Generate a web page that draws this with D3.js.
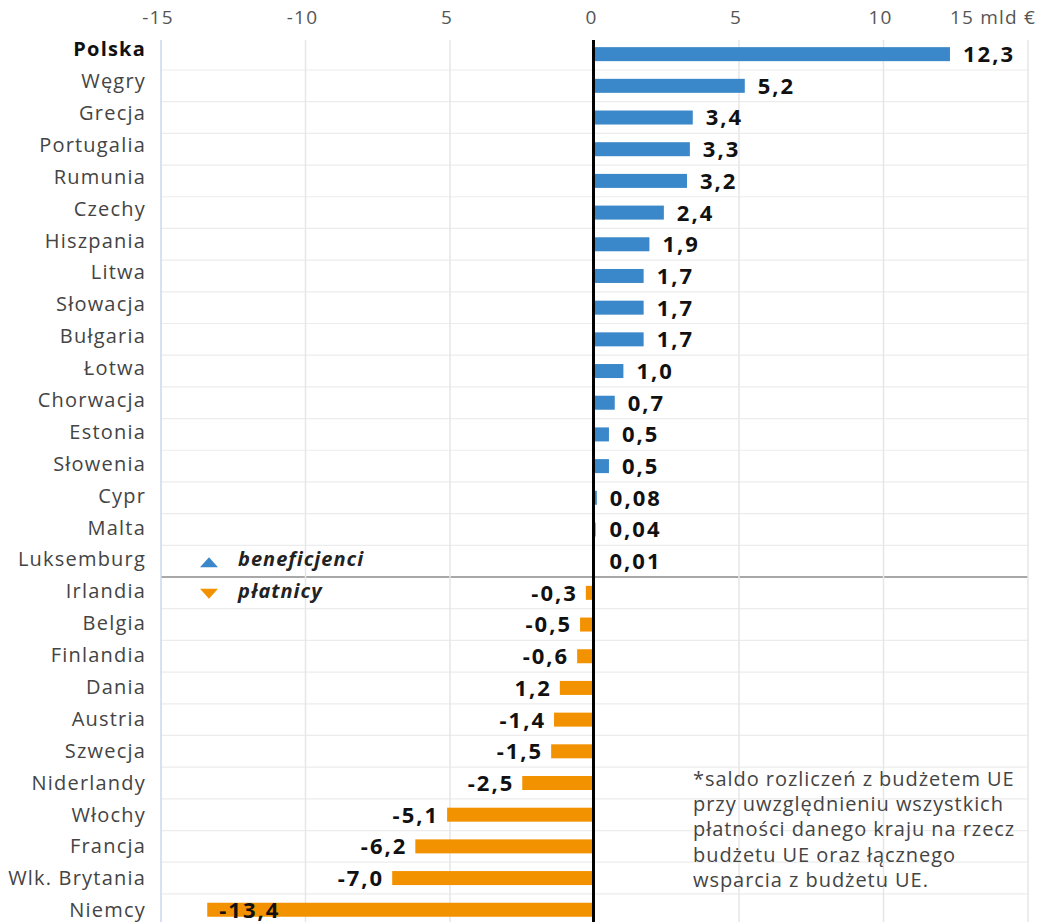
<!DOCTYPE html>
<html lang="pl">
<head>
<meta charset="UTF-8">
<title>Saldo rozliczeń z budżetem UE</title>
<script src="https://d3js.org/d3.v7.min.js"></script>
<style>
  body { margin: 0; background: #fff; }
  svg { display: block; font-family: "Open Sans", "Noto Sans", sans-serif; }
</style>
</head>
<body>
<div id="chart"></div>
<script>
// dane
const categories = ["Polska", "Węgry", "Grecja", "Portugalia", "Rumunia", "Czechy", "Hiszpania", "Litwa",
  "Słowacja", "Bułgaria", "Łotwa", "Chorwacja", "Estonia", "Słowenia", "Cypr", "Malta", "Luksemburg",
  "Irlandia", "Belgia", "Finlandia", "Dania", "Austria", "Szwecja", "Niderlandy", "Włochy", "Francja",
  "Wlk. Brytania", "Niemcy"];
const values = [12.3, 5.2, 3.4, 3.3, 3.2, 2.4, 1.9, 1.7, 1.7, 1.7, 1.0, 0.7, 0.5, 0.5, 0.08, 0.04, 0.01,
  -0.3, -0.5, -0.6, -1.2, -1.4, -1.5, -2.5, -5.1, -6.2, -7.0, -13.4];
const valueLabels = ["12,3", "5,2", "3,4", "3,3", "3,2", "2,4", "1,9", "1,7", "1,7", "1,7", "1,0", "0,7",
  "0,5", "0,5", "0,08", "0,04", "0,01", "-0,3", "-0,5", "-0,6", "1,2", "-1,4", "-1,5", "-2,5", "-5,1",
  "-6,2", "-7,0", "-13,4"];
const tickValues = [-15, -10, -5, 0, 5, 10, 15];
const tickLabels = ["-15", "-10", "5", "0", "5", "10", "15 mld €"];
const legendLabels = ["beneficjenci", "płatnicy"];
const noteLines = [
  "*saldo rozliczeń z budżetem UE",
  "przy uwzględnieniu wszystkich",
  "płatności danego kraju na rzecz",
  "budżetu UE oraz łącznego",
  "wsparcia z budżetu UE."
];

const width = 1040, height = 922;
const blue = "#3a88c9", orange = "#f39200";

const svg = d3.select("#chart").append("svg")
  .attr("width", width).attr("height", height);

const x = d3.scaleLinear().domain([-15, 15]).range([161, 1028]);
const y = d3.scaleBand().domain(categories).range([38.3, 925.6]);
const yLabel = d3.scaleBand().domain(categories).range([33, 926]);
const barH = 14;
const plotTop = 40;

// poziome linie siatki
svg.append("g").selectAll("line")
  .data(categories.slice(1))
  .join("line")
  .attr("x1", x(-15)).attr("x2", x(15))
  .attr("y1", d => y(d)).attr("y2", d => y(d))
  .attr("stroke", d => d === "Irlandia" ? "#a8a8a8" : "#ececec")
  .attr("stroke-width", d => d === "Irlandia" ? 2 : 1.2);

// pionowe linie siatki
svg.append("g").selectAll("line")
  .data(tickValues.filter(d => d !== 0))
  .join("line")
  .attr("x1", d => x(d)).attr("x2", d => x(d))
  .attr("y1", plotTop).attr("y2", height)
  .attr("stroke", d => d === -15 ? "#cbd7ec" : "#e6e6e6")
  .attr("stroke-width", 1.5);

// etykiety osi X
svg.append("g").selectAll("text")
  .data(tickValues)
  .join("text")
  .attr("x", (d, i) => i === tickValues.length - 1 ? 1036 : x(d) - 3)
  .attr("y", 24)
  .attr("text-anchor", (d, i) => i === tickValues.length - 1 ? "end" : "middle")
  .attr("font-size", 19)
  .attr("letter-spacing", 1.2)
  .attr("fill", "#555")
  .text((d, i) => tickLabels[i]);

// słupki
svg.append("g").selectAll("rect")
  .data(values)
  .join("rect")
  .attr("x", d => x(Math.min(0, d)))
  .attr("width", d => Math.abs(x(d) - x(0)))
  .attr("y", (d, i) => y(categories[i]) + (y.bandwidth() - barH) / 2)
  .attr("height", barH)
  .attr("fill", d => d >= 0 ? blue : orange);

// linia zera
svg.append("line")
  .attr("x1", x(0) - 1).attr("x2", x(0) - 1)
  .attr("y1", plotTop).attr("y2", height)
  .attr("stroke", "#000").attr("stroke-width", 3);

// etykiety kategorii
svg.append("g").selectAll("text")
  .data(categories)
  .join("text")
  .attr("x", 146)
  .attr("y", d => yLabel(d) + yLabel.bandwidth() / 2)
  .attr("dy", "0.36em")
  .attr("text-anchor", "end")
  .attr("font-size", 20)
  .attr("letter-spacing", 1.2)
  .attr("font-weight", d => d === "Polska" ? 700 : 400)
  .attr("fill", d => d === "Polska" ? "#111" : "#444")
  .text(d => d);

// wartości
const labels = svg.append("g").selectAll("text")
  .data(values)
  .join("text")
  .attr("y", (d, i) => y(categories[i]) + y.bandwidth() / 2)
  .attr("dy", "0.36em")
  .attr("font-size", 22)
  .attr("font-weight", 700)
  .attr("letter-spacing", 2)
  .attr("fill", "#111")
  .text((d, i) => valueLabels[i]);

labels.each(function(d) {
  const t = d3.select(this);
  if (d >= 0) {
    t.attr("x", Math.max(x(d), x(0) + 2) + 13).attr("text-anchor", "start");
  } else {
    const w = this.getComputedTextLength();
    if (x(d) - 10 - w < x(-15)) {
      t.attr("x", x(d) + 12).attr("text-anchor", "start");
    } else {
      t.attr("x", x(d) - 8).attr("text-anchor", "end");
    }
  }
});

// legenda
const legend = svg.append("g");
const legendRows = ["Luksemburg", "Irlandia"];
legend.selectAll("path")
  .data(legendLabels)
  .join("path")
  .attr("transform", (d, i) => `translate(209,${y(legendRows[i]) + y.bandwidth() / 2 + 1})`)
  .attr("d", (d, i) => i === 0 ? "M-9,5L9,5L0,-5Z" : "M-9,-5L9,-5L0,5Z")
  .attr("fill", (d, i) => i === 0 ? blue : orange);
legend.selectAll("text")
  .data(legendLabels)
  .join("text")
  .attr("x", 238)
  .attr("y", (d, i) => yLabel(legendRows[i]) + yLabel.bandwidth() / 2)
  .attr("dy", "0.36em")
  .attr("font-size", 20)
  .attr("letter-spacing", 1)
  .attr("font-weight", 700)
  .attr("font-style", "italic")
  .attr("fill", "#222")
  .text(d => d);

// przypis
svg.append("text")
  .attr("x", 693)
  .attr("font-size", 20)
  .attr("letter-spacing", 0.95)
  .attr("fill", "#444")
  .selectAll("tspan")
  .data(noteLines)
  .join("tspan")
  .attr("x", 693)
  .attr("y", (d, i) => 786 + i * 25.2)
  .text(d => d);
</script>
</body>
</html>
